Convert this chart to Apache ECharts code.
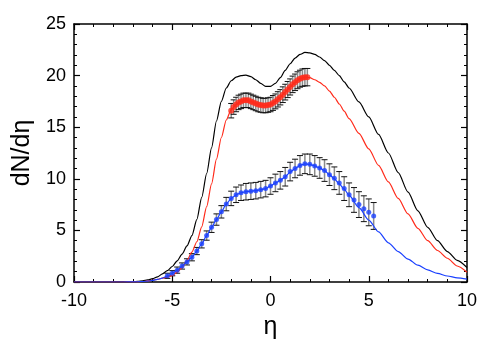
<!DOCTYPE html>
<html>
<head>
<meta charset="utf-8">
<script src="https://cdn.jsdelivr.net/npm/echarts@6/dist/echarts.min.js"></script>
<style>
  html, body { margin: 0; padding: 0; background: #fff; }
  #chart { width: 491px; height: 340px; }
</style>
</head>
<body>
<div id="chart"></div>
<script>
// model curves: eta grid, finer in the middle
const curveEta = [-10, -9.5, -9, -8.5, -8, -7.5,
  -7, -6.75, -6.5, -6.25, -6, -5.75, -5.5, -5.25, -5, -4.75, -4.5, -4.25, -4, -3.75, -3.5, -3.25, -3, -2.75,
  -2.5, -2.25, -2, -1.75, -1.5, -1.25, -1, -0.75, -0.5, -0.25, 0, 0.25, 0.5, 0.75, 1, 1.25, 1.5, 1.75,
  2, 2.25, 2.5, 2.75, 3, 3.25, 3.5, 3.75, 4,
  4.5, 5, 5.5, 6, 6.5, 7, 7.5, 8, 8.5, 9, 9.5, 10]
const blackCurve = [0, 0, 0, 0, 0, 0.01,
  0.03, 0.06, 0.12, 0.2, 0.32, 0.5, 0.78, 1.1, 1.5, 2.05, 2.7, 3.5, 4.5, 6.05, 8.2, 10.5, 13.0, 15.6,
  17.5, 18.8, 19.5, 19.85, 20.0, 20.05, 19.9, 19.6, 19.25, 18.95, 18.95, 19.25, 19.8, 20.5, 21.15, 21.7, 22.05, 22.25,
  22.2, 22.05, 21.8, 21.45, 21.0, 20.5, 20.0, 19.4, 18.8,
  17.45, 16.0, 14.3, 12.5, 10.6, 8.7, 6.9, 5.3, 4.0, 2.95, 2.1, 1.4]
const redCurve = [0, 0, 0, 0, 0, 0,
  0.01, 0.02, 0.05, 0.1, 0.17, 0.26, 0.37, 0.47, 0.62, 0.95, 1.4, 2.1, 2.9, 3.9, 5.35, 7.3, 9.5, 11.9,
  14.0, 15.7, 16.7, 17.2, 17.5, 17.6, 17.5, 17.3, 17.15, 17.1, 17.2, 17.5, 17.9, 18.4, 18.9, 19.35, 19.7, 19.85,
  19.8, 19.6, 19.35, 19.0, 18.5, 17.9, 17.25, 16.55, 15.83,
  14.4, 12.9, 11.3, 9.7, 8.1, 6.6, 5.2, 4.0, 3.05, 2.3, 1.55, 0.95]
const blueCurve = [0, 0, 0, 0, 0, 0,
  0.01, 0.02, 0.05, 0.09, 0.15, 0.25, 0.38, 0.58, 0.85, 1.15, 1.55, 1.95, 2.4, 3.0, 3.7, 4.5, 5.3, 6.05,
  6.8, 7.55, 8.1, 8.45, 8.65, 8.75, 8.8, 8.85, 8.95, 9.05, 9.3, 9.6, 9.85, 10.2, 10.65, 11.0, 11.3, 11.45,
  11.4, 11.25, 11.05, 10.8, 10.4, 10.0, 9.5, 9.0, 8.4,
  7.2, 6.0, 4.85, 3.8, 2.95, 2.22, 1.63, 1.17, 0.83, 0.58, 0.4, 0.27]

// red data points
const redEta = [-2, -1.875, -1.75, -1.625, -1.5, -1.375, -1.25, -1.125, -1, -0.875, -0.75, -0.625, -0.5, -0.375, -0.25, -0.125,
  0, 0.125, 0.25, 0.375, 0.5, 0.625, 0.75, 0.875, 1, 1.125, 1.25, 1.375, 1.5, 1.625, 1.75, 1.875]
const redVal = [16.6, 16.95, 17.2, 17.4, 17.5, 17.6, 17.6, 17.6, 17.5, 17.4, 17.3, 17.2, 17.15, 17.1, 17.1, 17.15,
  17.2, 17.35, 17.5, 17.7, 17.9, 18.15, 18.4, 18.65, 18.9, 19.15, 19.35, 19.55, 19.7, 19.8, 19.85, 19.85]
const redErr = [0.7, 0.7, 0.7, 0.7, 0.7, 0.7, 0.7, 0.7, 0.7, 0.7, 0.7, 0.7, 0.7, 0.7, 0.7, 0.7,
  0.7, 0.72, 0.72, 0.74, 0.74, 0.76, 0.76, 0.78, 0.78, 0.8, 0.8, 0.82, 0.82, 0.84, 0.84, 0.84]

// blue data points
const blueEta = [-5.25, -5, -4.75, -4.5, -4.25, -4, -3.75, -3.5, -3.25, -3, -2.75, -2.5, -2.25, -2, -1.75, -1.5, -1.25, -1, -0.75, -0.5, -0.25,
  0, 0.25, 0.5, 0.75, 1, 1.25, 1.5, 1.75, 2, 2.25, 2.5, 2.75, 3, 3.25, 3.5, 3.75, 4, 4.25, 4.5, 4.75, 5, 5.25]
const blueVal = [0.6, 0.85, 1.15, 1.55, 1.95, 2.4, 3.0, 3.7, 4.5, 5.3, 6.05, 6.8, 7.55, 8.1, 8.45, 8.65, 8.75, 8.8, 8.85, 8.95, 9.05,
  9.3, 9.6, 9.85, 10.2, 10.7, 11.0, 11.3, 11.45, 11.4, 11.25, 11.05, 10.8, 10.4, 10.05, 9.6, 9.05, 8.45, 7.95, 7.5, 7.1, 6.75, 6.4]
const blueErr = [0.25, 0.25, 0.3, 0.3, 0.3, 0.35, 0.35, 0.4, 0.45, 0.5, 0.55, 0.6, 0.65, 0.7, 0.75, 0.75, 0.8, 0.8, 0.8, 0.8, 0.8,
  0.8, 0.85, 0.85, 0.9, 0.9, 0.9, 0.95, 0.95, 1.0, 1.0, 1.0, 1.05, 1.05, 1.1, 1.1, 1.15, 1.15, 1.2, 1.25, 1.25, 1.3, 1.3]

const xTicks = [-10, -5, 0, 5, 10]
const yTicks = [0, 5, 10, 15, 20, 25]

const pair = (xs, ys) => xs.map((x, i) => [x, ys[i]])
const errRows = (xs, ys, es) => xs.map((x, i) => [x, ys[i] - es[i], ys[i] + es[i]])

const renderErr = (params, api) => {
  const lo = api.coord([api.value(0), api.value(1)])
  const hi = api.coord([api.value(0), api.value(2)])
  const w = 3
  return {
    type: 'group',
    children: [
      { type: 'line', shape: { x1: lo[0], y1: lo[1], x2: hi[0], y2: hi[1] }, style: { stroke: '#8a8a8a', lineWidth: 1.5 } },
      { type: 'line', shape: { x1: lo[0] - w, y1: lo[1], x2: lo[0] + w, y2: lo[1] }, style: { stroke: '#111', lineWidth: 1 } },
      { type: 'line', shape: { x1: hi[0] - w, y1: hi[1], x2: hi[0] + w, y2: hi[1] }, style: { stroke: '#111', lineWidth: 1 } }
    ]
  }
}

const font = 'Liberation Sans, Arial, sans-serif'
const axisBase = (min, max, interval) => ({
  type: 'value', min: min, max: max, interval: interval,
  axisLine: { show: true, onZero: false, lineStyle: { color: '#000', width: 1.5 } },
  axisTick: { show: true, inside: true, length: 6, lineStyle: { color: '#000', width: 1.2 } },
  minorTick: { show: true, splitNumber: 5, length: 3, lineStyle: { color: '#000', width: 1 } },
  splitLine: { show: false }
})

const curveLine = (vals, color) => ({
  type: 'line', data: pair(curveEta, vals), smooth: 0.25, smoothMonotone: 'x', showSymbol: false,
  lineStyle: { color: color, width: 1.2 }
})

const chart = echarts.init(document.getElementById('chart'))
chart.setOption({
  animation: false,
  backgroundColor: '#fff',
  grid: { left: 74, right: 24, top: 24, bottom: 58, outerBoundsMode: 'none', containLabel: false },
  xAxis: [
    Object.assign(axisBase(-10, 10, 5), {
      position: 'bottom',
      name: 'η', nameLocation: 'middle', nameGap: 32,
      nameTextStyle: { fontFamily: font, fontSize: 25, color: '#000' },
      axisLabel: { margin: 10, fontFamily: font, fontSize: 18, color: '#000',
        formatter: v => xTicks.includes(v) ? String(v) : '' }
    }),
    Object.assign(axisBase(-10, 10, 5), { position: 'top', axisLabel: { show: false } })
  ],
  yAxis: [
    Object.assign(axisBase(0, 25, 5), {
      position: 'left',
      name: 'dN/dη', nameLocation: 'middle', nameGap: 32,
      nameTextStyle: { fontFamily: font, fontSize: 25, color: '#000' },
      axisLabel: { margin: 8, fontFamily: font, fontSize: 18, color: '#000',
        formatter: v => yTicks.includes(v) ? String(v) : '' }
    }),
    Object.assign(axisBase(0, 25, 5), { position: 'right', axisLabel: { show: false } })
  ],
  series: [
    curveLine(blackCurve, '#000'),
    curveLine(redCurve, '#ff2a1a'),
    curveLine(blueCurve, '#1a40ff'),
    { type: 'custom', renderItem: renderErr, data: errRows(redEta, redVal, redErr), encode: { x: 0, y: [1, 2] }, z: 3 },
    { type: 'custom', renderItem: renderErr, data: errRows(blueEta, blueVal, blueErr), encode: { x: 0, y: [1, 2] }, z: 3 },
    { type: 'scatter', data: pair(redEta, redVal), symbol: 'circle', symbolSize: 6,
      itemStyle: { color: '#ff2a1a' }, z: 4 },
    { type: 'scatter', data: pair(blueEta, blueVal), symbol: 'circle', symbolSize: 5,
      itemStyle: { color: '#1a40ff' }, z: 4 }
  ]
})
</script>
</body>
</html>
